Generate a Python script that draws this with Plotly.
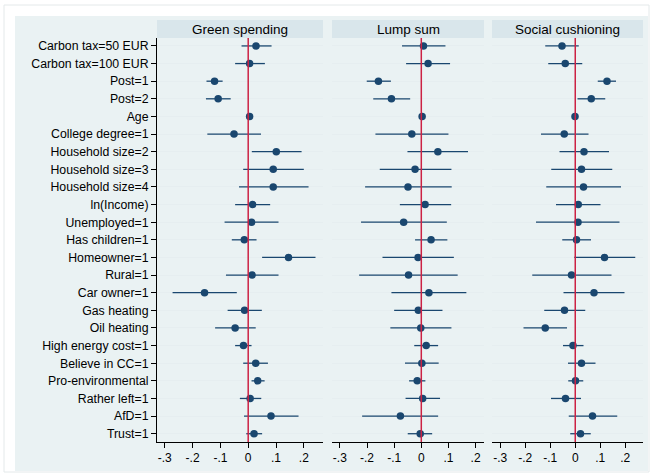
import plotly.graph_objects as go

labels = ["Carbon tax=50 EUR", "Carbon tax=100 EUR", "Post=1", "Post=2", "Age",
          "College degree=1", "Household size=2", "Household size=3", "Household size=4",
          "ln(Income)", "Unemployed=1", "Has children=1", "Homeowner=1", "Rural=1",
          "Car owner=1", "Gas heating", "Oil heating", "High energy cost=1",
          "Believe in CC=1", "Pro-environmental", "Rather left=1", "AfD=1", "Trust=1"]

panel_titles = ["Green spending", "Lump sum", "Social cushioning"]

green_coef = [0.028, 0.005, -0.121, -0.108, 0.005, -0.051, 0.101, 0.090, 0.090, 0.016, 0.012,
              -0.014, 0.145, 0.014, -0.157, -0.013, -0.047, -0.017, 0.027, 0.034, 0.007, 0.082, 0.021]
green_lo = [-0.024, -0.047, -0.150, -0.152, 0.001, -0.147, 0.013, -0.018, -0.033, -0.047, -0.085,
            -0.059, 0.050, -0.080, -0.272, -0.074, -0.119, -0.047, -0.018, 0.012, -0.030, -0.015, -0.007]
green_hi = [0.084, 0.060, -0.092, -0.063, 0.009, 0.046, 0.192, 0.200, 0.217, 0.079, 0.109,
            0.030, 0.242, 0.109, -0.041, 0.049, 0.027, 0.012, 0.071, 0.059, 0.047, 0.181, 0.050]

lump_coef = [0.008, 0.025, -0.158, -0.110, 0.003, -0.035, 0.061, -0.023, -0.049, 0.014, -0.065,
             0.036, -0.012, -0.047, 0.028, -0.011, -0.002, 0.018, 0.002, -0.015, 0.005, -0.077, -0.004]
lump_lo = [-0.071, -0.056, -0.201, -0.177, -0.001, -0.169, -0.051, -0.153, -0.207, -0.079, -0.222,
           -0.023, -0.143, -0.229, -0.110, -0.100, -0.114, -0.026, -0.060, -0.045, -0.058, -0.218, -0.050]
lump_hi = [0.089, 0.106, -0.112, -0.041, 0.007, 0.100, 0.172, 0.111, 0.112, 0.110, 0.094,
           0.096, 0.120, 0.134, 0.166, 0.078, 0.111, 0.062, 0.064, 0.015, 0.069, 0.062, 0.040]

social_coef = [-0.053, -0.040, 0.127, 0.064, -0.001, -0.044, 0.035, 0.025, 0.033, 0.012, 0.011,
               0.005, 0.117, -0.015, 0.075, -0.043, -0.120, -0.009, 0.025, 0.001, -0.039, 0.069, 0.021]
social_lo = [-0.120, -0.108, 0.090, 0.009, -0.005, -0.137, -0.063, -0.096, -0.116, -0.077, -0.157,
             -0.052, -0.004, -0.172, -0.047, -0.124, -0.207, -0.049, -0.029, -0.028, -0.097, -0.026, -0.020]
social_hi = [0.014, 0.028, 0.163, 0.120, 0.003, 0.053, 0.135, 0.148, 0.183, 0.101, 0.177,
             0.063, 0.240, 0.145, 0.197, 0.040, -0.033, 0.033, 0.081, 0.032, 0.023, 0.168, 0.062]

x_ticks = [-0.3, -0.2, -0.1, 0, 0.1, 0.2]
x_ticktext = ["-.3", "-.2", "-.1", "0", ".1", ".2"]

W, H = 653, 476
NAVY = "#1a476f"
BG = "#eaf2f3"
STRIP = "#d9e6eb"
ZERO = "#cc2244"
FONT = "Arial, Liberation Sans, sans-serif"

# panel geometry in pixels
panel_px = [(157, 323), (332, 484), (492, 643)]
x_ranges = [[-0.328, 0.269], [-0.329, 0.231], [-0.333, 0.271]]
plot_top, plot_bot = 38, 442
strip_top = 20

def fx(px):
    return px / W

def fy(py):
    return 1 - py / H

series = [(green_coef, green_lo, green_hi), (lump_coef, lump_lo, lump_hi),
          (social_coef, social_lo, social_hi)]

ypos = list(range(len(labels)))
fig = go.Figure()
shapes = []
annotations = []

# outer background
shapes.append(dict(type="rect", xref="paper", yref="paper", x0=fx(4), x1=fx(649), y0=fy(472), y1=fy(5),
                   line=dict(color="#e4e9ea", width=1), fillcolor="white", layer="below"))
shapes.append(dict(type="rect", xref="paper", yref="paper", x0=fx(15), x1=fx(648), y0=fy(471), y1=fy(16),
                   line=dict(width=0), fillcolor=BG, layer="below"))

for i, (coef, lo, hi) in enumerate(series):
    n = i + 1
    xa = "x" if n == 1 else f"x{n}"
    ya = "y" if n == 1 else f"y{n}"
    plus = [h - c for h, c in zip(hi, coef)]
    minus = [c - l for c, l in zip(coef, lo)]
    fig.add_trace(go.Scatter(
        x=coef, y=ypos, xaxis=xa, yaxis=ya, mode="markers",
        marker=dict(color=NAVY, size=7.5, line=dict(width=0)),
        error_x=dict(type="data", symmetric=False, array=plus, arrayminus=minus,
                     color=NAVY, thickness=1.3, width=0),
        showlegend=False, hoverinfo="skip"))

    x0p, x1p = panel_px[i]
    xkey = "xaxis" if n == 1 else f"xaxis{n}"
    ykey = "yaxis" if n == 1 else f"yaxis{n}"
    fig.layout[xkey] = dict(
        domain=[fx(x0p), fx(x1p)], anchor=ya, range=x_ranges[i],
        tickvals=x_ticks, ticktext=x_ticktext, ticks="outside", ticklen=5, tickwidth=1,
        tickcolor="black", showline=True, linecolor="black", linewidth=1,
        showgrid=False, zeroline=False, tickfont=dict(family=FONT, size=12, color="black"),
        fixedrange=True)
    fig.layout[ykey] = dict(
        domain=[fy(plot_bot), fy(plot_top)], anchor=xa, range=[22.47, -0.45],
        tickvals=ypos, ticktext=labels if n == 1 else [""] * len(labels),
        showticklabels=(n == 1), ticks="outside" if n == 1 else "", ticklen=5,
        tickcolor="black", showline=(n == 1), linecolor="black", linewidth=1,
        showgrid=True, gridcolor="#e6eef0", gridwidth=1, zeroline=False,
        tickfont=dict(family=FONT, size=12.3, color="black"), fixedrange=True)

    # zero reference line
    shapes.append(dict(type="line", xref=xa, yref=f"{ya} domain", x0=0, x1=0, y0=0, y1=1,
                       line=dict(color=ZERO, width=1.5), layer="above"))
    # title strip
    shapes.append(dict(type="rect", xref="paper", yref="paper", x0=fx(x0p), x1=fx(x1p),
                       y0=fy(plot_top), y1=fy(strip_top), line=dict(width=0), fillcolor=STRIP,
                       layer="below"))
    annotations.append(dict(text=panel_titles[i], xref="paper", yref="paper",
                            x=(fx(x0p) + fx(x1p)) / 2, y=(fy(plot_top) + fy(strip_top)) / 2,
                            xanchor="center", yanchor="middle", showarrow=False,
                            font=dict(family=FONT, size=13.5, color="black")))

fig.update_layout(
    width=W, height=H, autosize=False,
    margin=dict(l=0, r=0, t=0, b=0, pad=0),
    paper_bgcolor="white", plot_bgcolor="white",
    shapes=shapes, annotations=annotations,
    font=dict(family=FONT, color="black"),
)

fig.write_html("out.html")
